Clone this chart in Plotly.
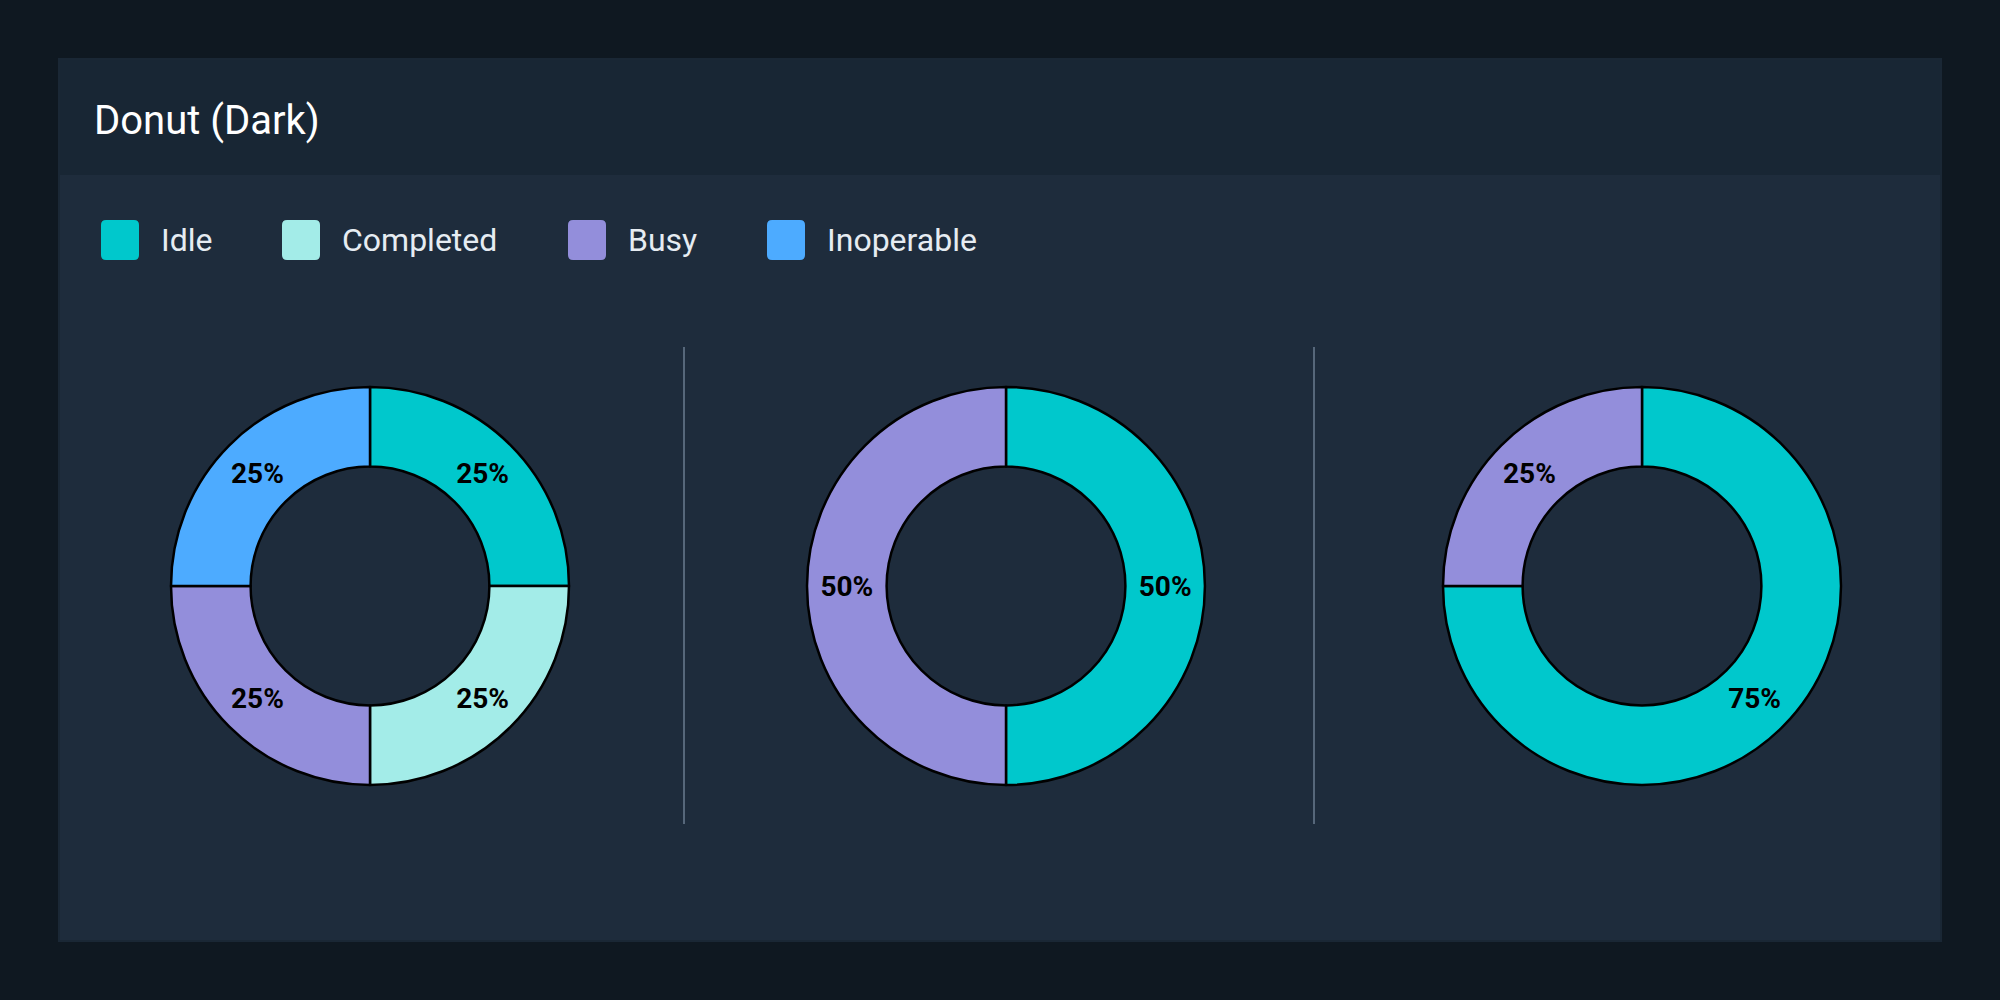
import plotly.graph_objects as go

# ---- data ----
categories = ["Idle", "Completed", "Busy", "Inoperable"]
colors = ["#00C8CC", "#A3ECE8", "#938EDB", "#4DABFF"]

donut1_labels = ["Idle", "Completed", "Busy", "Inoperable"]
donut1_values = [25, 25, 25, 25]
donut2_labels = ["Idle", "Busy"]
donut2_values = [50, 50]
donut3_labels = ["Idle", "Busy"]
donut3_values = [75, 25]

title_text = "Donut (Dark)"

# ---- layout constants (pixels on a 2000x1000 canvas) ----
W, H = 2000, 1000
OUTER_BG = "#0F1821"
CARD_BG = "#1E2C3C"
HEADER_BG = "#182634"
CARD = (59, 59, 1941, 941)
HEADER_BOTTOM = 175
centers_x = [370, 1006, 1642]
center_y = 586
radius = 199
dividers_x = [684, 1314]
divider_y = (347, 824)
legend_x = [101, 282, 568, 767]
legend_y = 240
sq_w, sq_h, sq_r = 38, 40, 5

def px(x):
    return x / W

def py(y):
    return 1 - y / H

color_map = dict(zip(categories, colors))

fig = go.Figure()

donuts = [(donut1_labels, donut1_values), (donut2_labels, donut2_values), (donut3_labels, donut3_values)]
for (labels, values), cx in zip(donuts, centers_x):
    fig.add_trace(go.Pie(
        labels=labels,
        values=values,
        hole=0.6,
        sort=False,
        direction="clockwise",
        rotation=0,
        marker=dict(colors=[color_map[l] for l in labels], line=dict(color="#000000", width=2.5)),
        textinfo="percent",
        textposition="inside",
        insidetextorientation="horizontal",
        textfont=dict(family="Roboto", size=28, color="#000000", weight=700),
        domain=dict(x=[px(cx - radius), px(cx + radius)],
                    y=[py(center_y + radius), py(center_y - radius)]),
        showlegend=False,
        hoverinfo="label+percent",
    ))

shapes = []
# card body
shapes.append(dict(type="rect", xref="paper", yref="paper", layer="below",
                   x0=px(CARD[0]), x1=px(CARD[2]), y0=py(CARD[3]), y1=py(CARD[1]),
                   fillcolor=CARD_BG, line=dict(color="#1A2735", width=2)))
# header band
shapes.append(dict(type="rect", xref="paper", yref="paper", layer="below",
                   x0=px(CARD[0] + 1), x1=px(CARD[2] - 1), y0=py(HEADER_BOTTOM), y1=py(CARD[1] + 1),
                   fillcolor=HEADER_BG, line=dict(width=0)))
# dividers
for dx in dividers_x:
    shapes.append(dict(type="line", xref="paper", yref="paper", layer="below",
                       x0=px(dx), x1=px(dx), y0=py(divider_y[1]), y1=py(divider_y[0]),
                       line=dict(color="#56677A", width=2)))

def rounded_rect(x0, y0, w, h, r):
    x1, y1 = x0 + w, y0 + h
    pts = [
        f"M {px(x0 + r)},{py(y0)}",
        f"L {px(x1 - r)},{py(y0)}",
        f"Q {px(x1)},{py(y0)} {px(x1)},{py(y0 + r)}",
        f"L {px(x1)},{py(y1 - r)}",
        f"Q {px(x1)},{py(y1)} {px(x1 - r)},{py(y1)}",
        f"L {px(x0 + r)},{py(y1)}",
        f"Q {px(x0)},{py(y1)} {px(x0)},{py(y1 - r)}",
        f"L {px(x0)},{py(y0 + r)}",
        f"Q {px(x0)},{py(y0)} {px(x0 + r)},{py(y0)}",
        "Z",
    ]
    return " ".join(pts)

annotations = [dict(text=title_text, x=px(92), y=py(120), xref="paper", yref="paper",
                    xanchor="left", yanchor="middle", showarrow=False,
                    font=dict(family="Roboto", size=40, color="#FFFFFF", weight=400))]

for cat, col, lx in zip(categories, colors, legend_x):
    shapes.append(dict(type="path", xref="paper", yref="paper",
                       path=rounded_rect(lx, legend_y - sq_h / 2, sq_w, sq_h, sq_r),
                       fillcolor=col, line=dict(width=0)))
    annotations.append(dict(text=cat, x=px(lx + 58), y=py(legend_y), xref="paper", yref="paper",
                            xanchor="left", yanchor="middle", showarrow=False,
                            font=dict(family="Roboto", size=32, color="#E6ECF2")))

fig.update_layout(
    width=W, height=H,
    margin=dict(l=0, r=0, t=0, b=0),
    paper_bgcolor=OUTER_BG,
    plot_bgcolor=OUTER_BG,
    shapes=shapes,
    annotations=annotations,
    showlegend=False,
)

fig.write_html("out.html", config={"displayModeBar": False},
               post_script="document.body.style.margin='0';document.body.style.overflow='hidden';")
